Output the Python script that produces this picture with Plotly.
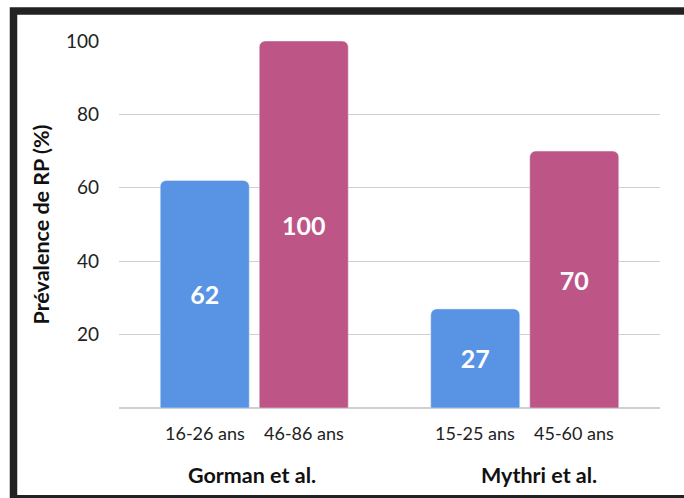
import plotly.graph_objects as go

studies = ["Gorman et al.", "Mythri et al."]
young_labels = ["16-26 ans", "15-25 ans"]
old_labels = ["46-86 ans", "45-60 ans"]
young_values = [62, 27]
old_values = [100, 70]
y_ticks = [20, 40, 60, 80, 100]

BLUE = "#5894E3"
PINK = "#BD5587"
FONT = "Lato, Open Sans, sans-serif"

fig = go.Figure()
fig.add_trace(go.Bar(
    x=studies, y=young_values, name="jeunes", marker_color=BLUE,
    text=[str(v) for v in young_values], textposition="inside",
    insidetextanchor="middle",
    textfont=dict(color="white", size=25, family=FONT, weight="bold"),
))
fig.add_trace(go.Bar(
    x=studies, y=old_values, name="âgés", marker_color=PINK,
    text=[str(v) for v in old_values], textposition="inside",
    insidetextanchor="middle",
    textfont=dict(color="white", size=25, family=FONT, weight="bold"),
))

annotations = []
group_shift = [-2.5, 14]
for i, s in enumerate(studies):
    annotations.append(dict(x=i, y=0, yref="y", xref="x", text=young_labels[i],
                            xshift=-49.5, yshift=-25, showarrow=False,
                            font=dict(size=18, color="#222", family=FONT)))
    annotations.append(dict(x=i, y=0, yref="y", xref="x", text=old_labels[i],
                            xshift=49.5, yshift=-25, showarrow=False,
                            font=dict(size=18, color="#222", family=FONT)))
    annotations.append(dict(x=i, y=0, yref="y", xref="x", text=s,
                            xshift=group_shift[i], yshift=-67, showarrow=False,
                            font=dict(size=21.5, color="#111", family=FONT, weight="bold")))

fig.update_layout(
    width=684, height=498,
    margin=dict(l=119, r=24, t=41, b=90),
    paper_bgcolor="white", plot_bgcolor="white",
    barmode="group", bargap=0.268, bargroupgap=0.101,
    barcornerradius=6,
    showlegend=False,
    font=dict(family=FONT, color="#222"),
    xaxis=dict(range=[-0.5, 1.5], showgrid=False, zeroline=False,
               showline=False, ticks="", showticklabels=False),
    yaxis=dict(range=[0, 100], tickvals=y_ticks, showgrid=True,
               gridcolor="#CFCFCF", gridwidth=1, zeroline=True,
               zerolinecolor="#CFCFCF", zerolinewidth=1.5,
               tickfont=dict(size=19, color="#222", family=FONT),
               ticklabelstandoff=19,
               title=dict(text="Prévalence de RP (%)", standoff=10,
                          font=dict(size=21.5, color="#111", family=FONT, weight="bold"))),
    annotations=annotations,
    shapes=[dict(type="rect", xref="paper", yref="paper",
                 x0=-0.195, x1=1.06, y0=-0.247, y1=1.082,
                 line=dict(color="#222", width=7.5), layer="above")],
)

fig.write_html("out.html", config={"displayModeBar": False},
               post_script="document.body.style.margin='0';")
